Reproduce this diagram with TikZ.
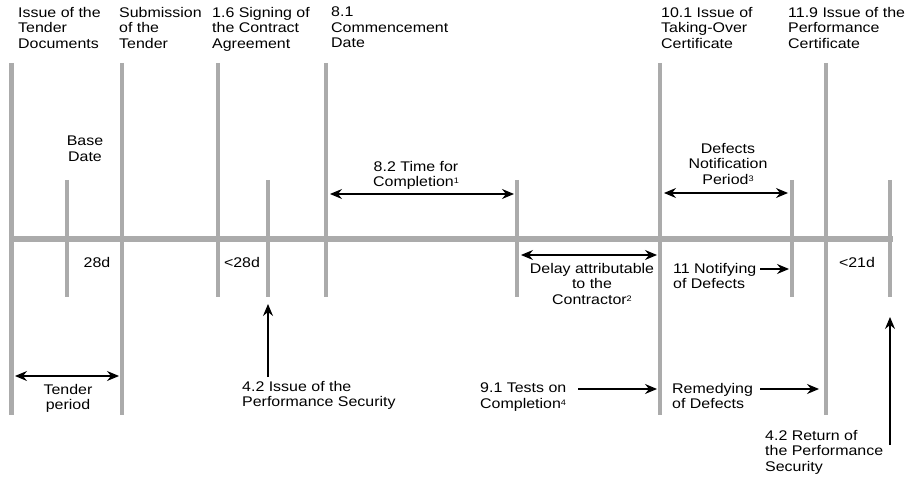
\documentclass[tikz,border=0pt]{standalone}
\usepackage{fontspec}
\setmainfont[FakeStretch=1.14]{Liberation Sans}
\usetikzlibrary{arrows.meta}
\definecolor{barc}{HTML}{ABABAB}
\newcommand{\fnmark}[1]{\raisebox{0.45ex}{\fontsize{8}{8}\selectfont #1}}
\begin{document}
\begin{tikzpicture}[x=1pt,y=-1pt,
  tick/.style={draw=barc, line width=4.5pt},
  axisline/.style={draw=barc, line width=6pt},
  lbl/.style={inner sep=0pt, font=\fontsize{14}{15.5}\selectfont},
  lbll/.style={lbl, align=left, anchor=north west},
  lblc/.style={lbl, align=center, anchor=north},
  tip/.tip={Stealth[length=12pt,width=10pt,inset=4pt]},
  span/.style={draw=black, line width=1.1pt, tip-tip},
  pointer/.style={draw=black, line width=1.1pt, -tip}]
\useasboundingbox (0,0) rectangle (912,478);

% time axis
\coordinate (axL) at (9,239.5);
\coordinate (axR) at (893,239.5);
\draw[axisline] (axL) -- (axR);

% long milestone lines
\foreach \n/\x/\b in {tIssue/11.5/415, tSub/122/415, tSign/218/297, tComm/326/297,
                      tTOC/660/415, tPC/826/415}{
  \coordinate (\n top) at (\x,63);
  \coordinate (\n bot) at (\x,\b);
  \draw[tick] (\n top) -- (\n bot);
}
% short lines
\foreach \n/\x in {sBase/67, sSec/268, sTFC/517, sDNP/792, sRet/890}{
  \coordinate (\n top) at (\x,180);
  \coordinate (\n bot) at (\x,297);
  \draw[tick] (\n top) -- (\n bot);
}

% milestone captions
\node[lbll] (cIssue) at (18,7) {Issue of the\\Tender\\Documents};
\node[lbll] (cSub) at (119,7) {Submission\\of the\\Tender};
\node[lbll] (cSign) at (212,7) {1.6 Signing of\\the Contract\\Agreement};
\node[lbll] (cComm) at (331,7) {8.1\\Commencement\\Date};
\node[lbll] (cTOC) at (661,7) {10.1 Issue of\\Taking-Over\\Certificate};
\node[lbll] (cPC) at (788,7) {11.9 Issue of the\\Performance\\Certificate};

\node[lblc] (cBase) at (85,136) {Base\\Date};
\node[lblc] (cTFC) at (416,161) {8.2 Time for\\Completion\fnmark{1}};
\node[lblc] (cDNP) at (728,143) {Defects\\Notification\\Period\fnmark{3}};

% periods above the axis
\coordinate (tfcA) at (330,194);
\coordinate (tfcB) at (514,194);
\draw[span] (tfcA) -- (tfcB);
\coordinate (dnpA) at (664,193);
\coordinate (dnpB) at (788,193);
\draw[span] (dnpA) -- (dnpB);

% below the axis
\node[lblc] (d28) at (97,257) {28d};
\node[lblc] (dlt28) at (242,257) {<28d};
\node[lblc] (dlt21) at (857,257) {<21d};

\coordinate (dlyA) at (521,255);
\coordinate (dlyB) at (657,255);
\draw[span] (dlyA) -- (dlyB);
\node[lblc] (cDly) at (592,263) {Delay attributable\\to the\\Contractor\fnmark{2}};

\node[lbll] (cNot) at (673,263) {11 Notifying\\of Defects};
\coordinate (notA) at (760,269);
\coordinate (notB) at (789,269);
\draw[pointer] (notA) -- (notB);

\coordinate (tenA) at (15,376);
\coordinate (tenB) at (119,376);
\draw[span] (tenA) -- (tenB);
\node[lblc] (cTen) at (68,384) {Tender\\period};

\node[lbll] (cSecI) at (242,381) {4.2 Issue of the\\Performance Security};
\coordinate (secA) at (268,377);
\coordinate (secT) at (268,304);
\draw[pointer] (secA) -- (secT);

\node[lbll] (cTests) at (480,383) {9.1 Tests on\\Completion\fnmark{4}};
\coordinate (testsA) at (578,389);
\coordinate (testsB) at (657,389);
\draw[pointer] (testsA) -- (testsB);

\node[lbll] (cRem) at (672,383) {Remedying\\of Defects};
\coordinate (remA) at (760,389);
\coordinate (remB) at (819,389);
\draw[pointer] (remA) -- (remB);

\node[lbll] (cRet) at (765,430) {4.2 Return of\\the Performance\\Security};
\coordinate (retA) at (890,445);
\coordinate (retT) at (890,317);
\draw[pointer] (retA) -- (retT);
\end{tikzpicture}
\end{document}
